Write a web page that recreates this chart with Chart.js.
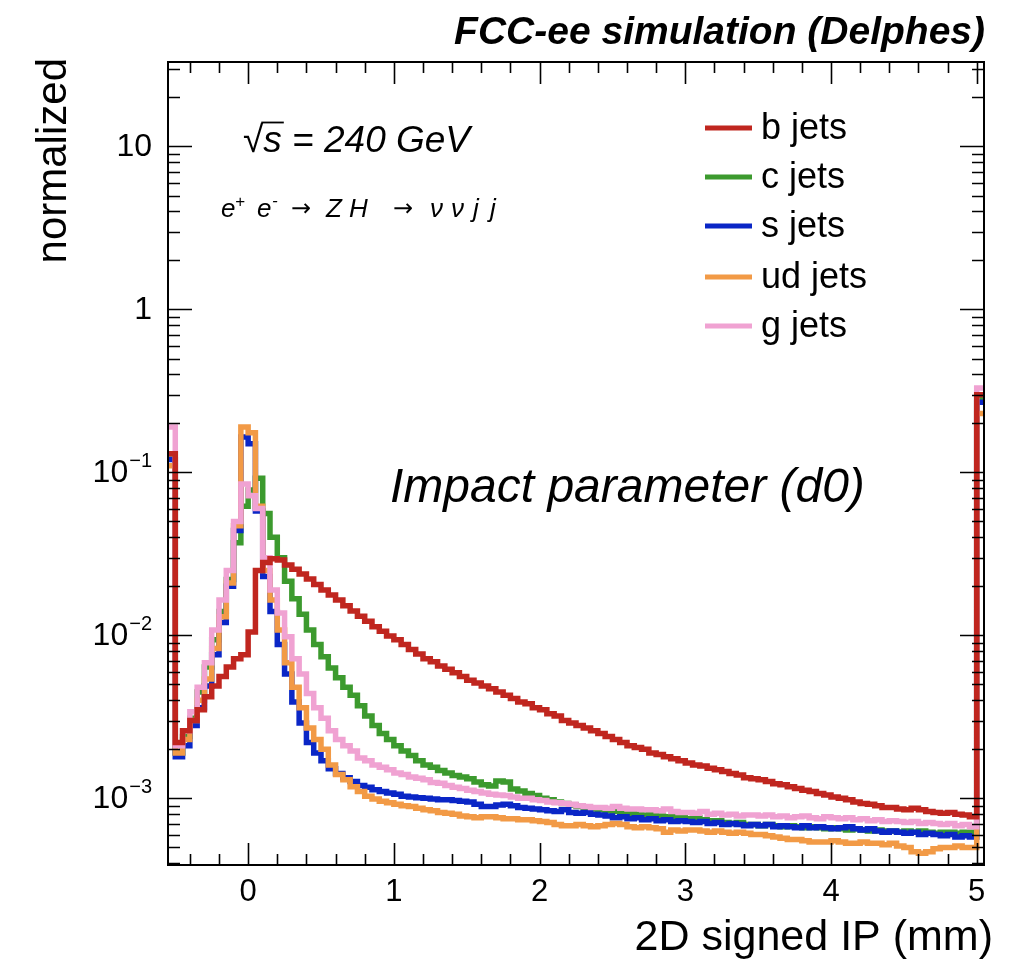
<!DOCTYPE html>
<html>
<head>
<meta charset="utf-8">
<script src="https://cdn.jsdelivr.net/npm/chart.js@4.4.1/dist/chart.umd.min.js"></script>
<style>
  html, body { margin: 0; padding: 0; background: #fff; }
  #wrap { width: 1021px; height: 960px; }
</style>
</head>
<body>
<div id="wrap"><canvas id="myChart"></canvas></div>
<script>
// histogram binning: 112 bins of 0.05 mm from -0.55 to 5.05 (first/last bins hold under/overflow)
const binStart = -0.55;
const binWidth = 0.05;

const bJets = [0.13, 0.0022, 0.0026, 0.0030, 0.0035, 0.0042, 0.0049, 0.0056, 0.0064, 0.0072,
  0.0076, 0.0105, 0.025, 0.028, 0.0295, 0.029, 0.027, 0.0255, 0.0238, 0.0222,
  0.0205, 0.019, 0.0177, 0.0165, 0.0152, 0.0141, 0.0131, 0.0122, 0.0113, 0.0106,
  0.0099, 0.0094, 0.0088, 0.0082, 0.0077, 0.0072, 0.0069, 0.0065, 0.0062, 0.0059,
  0.0056, 0.0053, 0.0051, 0.0049, 0.0047, 0.0045, 0.0043, 0.0041, 0.0039, 0.0038,
  0.0036, 0.0035, 0.0033, 0.0032, 0.0030, 0.0029, 0.0028, 0.0027, 0.0026, 0.0025,
  0.0024, 0.0023, 0.0022, 0.0021, 0.00205, 0.0020, 0.0019, 0.00186, 0.0018, 0.00175,
  0.0017, 0.00165, 0.0016, 0.00158, 0.00153, 0.0015, 0.00146, 0.00142, 0.00139, 0.00134,
  0.00132, 0.0013, 0.00127, 0.00123, 0.00121, 0.00118, 0.00115, 0.00112, 0.0011, 0.00107,
  0.00105, 0.00102, 0.001, 0.00098, 0.00095, 0.00093, 0.00092, 0.0009, 0.00088, 0.00088,
  0.00086, 0.00085, 0.00087, 0.00085, 0.00083, 0.00082, 0.00081, 0.00082, 0.0008, 0.00079,
  0.00077, 0.30];

const cJets = [0.13, 0.0019, 0.0024, 0.0031, 0.0045, 0.0064, 0.0094, 0.014, 0.022, 0.037,
  0.062, 0.078, 0.092, 0.056, 0.040, 0.030, 0.0215, 0.0168, 0.0135, 0.0108,
  0.0088, 0.0074, 0.0063, 0.0055, 0.0048, 0.0043, 0.0037, 0.0032, 0.0028, 0.0025,
  0.0023, 0.0021, 0.00195, 0.00183, 0.0017, 0.0016, 0.00155, 0.00148, 0.00143, 0.00138,
  0.00135, 0.00132, 0.00126, 0.00121, 0.00119, 0.00128, 0.00126, 0.00114, 0.00111, 0.00107,
  0.00104, 0.001, 0.00098, 0.00095, 0.00093, 0.00091, 0.00089, 0.00087, 0.00086, 0.00085,
  0.00084, 0.00083, 0.00083, 0.00081, 0.0008, 0.00079, 0.00081, 0.00078, 0.00077, 0.00077,
  0.00076, 0.00075, 0.00076, 0.00074, 0.00073, 0.00073, 0.00071, 0.0007, 0.00071, 0.00069,
  0.00069, 0.00068, 0.00069, 0.00068, 0.00067, 0.00068, 0.00067, 0.00066, 0.00067, 0.00066,
  0.00065, 0.00066, 0.00065, 0.00064, 0.00065, 0.00064, 0.00063, 0.00064, 0.00063, 0.00063,
  0.00062, 0.00063, 0.00062, 0.00063, 0.00062, 0.00061, 0.00062, 0.00062, 0.00061, 0.00062,
  0.00062, 0.28];

const sJets = [0.12, 0.0018, 0.0021, 0.0028, 0.0036, 0.0049, 0.0076, 0.012, 0.020, 0.044,
  0.165, 0.15, 0.058, 0.023, 0.014, 0.0088, 0.0058, 0.0039, 0.0029, 0.0022,
  0.0019, 0.0017, 0.00152, 0.00142, 0.00134, 0.00127, 0.0012, 0.00117, 0.00113, 0.0011,
  0.00108, 0.00106, 0.00103, 0.00102, 0.00101, 0.001, 0.00099, 0.00098, 0.00098, 0.00097,
  0.00096, 0.00095, 0.00092, 0.00089, 0.00089, 0.00091, 0.00092, 0.0009, 0.00088, 0.00087,
  0.00086, 0.00085, 0.00084, 0.00083, 0.00085, 0.00082, 0.00081, 0.00082, 0.0008, 0.00079,
  0.00078, 0.00076, 0.00077, 0.00075, 0.00076, 0.00074, 0.00075, 0.00073, 0.00074, 0.00072,
  0.00073, 0.00072, 0.00071, 0.00072, 0.0007, 0.00071, 0.00069, 0.0007, 0.00069, 0.00068,
  0.00069, 0.00068, 0.00069, 0.00067, 0.00068, 0.00067, 0.00066, 0.00068, 0.00066, 0.00067,
  0.00066, 0.00065, 0.00066, 0.00067, 0.00065, 0.00064, 0.00065, 0.00063, 0.00062, 0.00063,
  0.00062, 0.00061, 0.00062, 0.0006, 0.00061, 0.0006, 0.00059, 0.0006, 0.00058, 0.00059,
  0.00058, 0.27];

const udJets = [0.11, 0.0019, 0.0023, 0.0030, 0.0040, 0.0054, 0.0083, 0.013, 0.021, 0.047,
  0.19, 0.175, 0.062, 0.025, 0.0165, 0.0108, 0.0068, 0.0048, 0.0036, 0.0027,
  0.0023, 0.0020, 0.0016, 0.0014, 0.0013, 0.00118, 0.0011, 0.00103, 0.00099, 0.00096,
  0.00094, 0.00092, 0.0009, 0.00089, 0.00087, 0.00085, 0.00084, 0.00082, 0.00081, 0.0008,
  0.00078, 0.00077, 0.00076, 0.00077, 0.00077, 0.00076, 0.00075, 0.00075, 0.00074, 0.00074,
  0.00073, 0.00072, 0.00071, 0.00069, 0.00068, 0.00068, 0.00069, 0.00068, 0.00067, 0.00068,
  0.00069, 0.0007, 0.00069, 0.00067, 0.00066, 0.00067, 0.00066, 0.00065, 0.00062, 0.00064,
  0.00063, 0.00064, 0.00064, 0.00063, 0.00062, 0.00063, 0.00062, 0.00061, 0.00062, 0.00061,
  0.0006, 0.0006, 0.00059, 0.00058, 0.00057, 0.00056, 0.00056, 0.00055, 0.00054, 0.00054,
  0.00054, 0.00055, 0.00054, 0.00053, 0.00053, 0.00054, 0.00053, 0.00053, 0.00052, 0.00053,
  0.00051, 0.0005, 0.00047, 0.00046, 0.00047, 0.00049, 0.0005, 0.0005, 0.00051, 0.0005,
  0.0005, 0.23];

const gJets = [0.19, 0.0021, 0.0026, 0.0034, 0.0048, 0.0068, 0.0108, 0.0165, 0.025, 0.050,
  0.085, 0.072, 0.060, 0.030, 0.019, 0.0137, 0.0098, 0.0072, 0.0058, 0.0044,
  0.0036, 0.0031, 0.0026, 0.0023, 0.0021, 0.00195, 0.00177, 0.0017, 0.0016, 0.00155,
  0.0015, 0.00143, 0.0014, 0.00135, 0.00133, 0.0013, 0.00125, 0.00124, 0.0012, 0.00117,
  0.00115, 0.00112, 0.0011, 0.00108, 0.00106, 0.00105, 0.00104, 0.00102, 0.001, 0.001,
  0.00098, 0.00097, 0.00095, 0.00094, 0.00093, 0.00092, 0.0009, 0.00089, 0.00088, 0.00088,
  0.00087, 0.00089, 0.00087, 0.00086, 0.00086, 0.00085, 0.00085, 0.00084, 0.00086, 0.00083,
  0.00082, 0.00082, 0.00081, 0.00083, 0.0008, 0.00081, 0.00079, 0.0008, 0.00078, 0.00079,
  0.00079, 0.00078, 0.00079, 0.00077, 0.00078, 0.00076, 0.00077, 0.00078, 0.00076, 0.00075,
  0.00077, 0.00076, 0.00075, 0.00076, 0.00074, 0.00075, 0.00073, 0.00074, 0.00072, 0.00073,
  0.00072, 0.00071, 0.00072, 0.0007, 0.00071, 0.0007, 0.00069, 0.0007, 0.00068, 0.00069,
  0.00067, 0.33];

const seriesNames = ['b jets', 'c jets', 's jets', 'ud jets', 'g jets'];
const seriesColors = ['#c0261f', '#3c9a2e', '#0a26c6', '#f29a46', '#f0a2d2'];
// drawing order (lower = on top), as in the original canvas
const seriesOrder = [0, 4, 3, 2, 1];

// axis ticks
const xTickValues = [-0.4, -0.2, 0, 0.2, 0.4, 0.6, 0.8, 1, 1.2, 1.4, 1.6, 1.8, 2, 2.2, 2.4, 2.6, 2.8,
  3, 3.2, 3.4, 3.6, 3.8, 4, 4.2, 4.4, 4.6, 4.8, 5];
const yLabelValues = [10, 1, 0.1, 0.01, 0.001];
const yLabelBase = ['10', '1', '10', '10', '10'];
const yLabelSup = ['', '', '\u22121', '\u22122', '\u22123'];

function histPoints(values) {
  const pts = values.map((v, k) => ({ x: binStart + k * binWidth, y: v }));
  pts.push({ x: binStart + values.length * binWidth, y: values[values.length - 1] });
  return pts;
}

const allSeries = [bJets, cJets, sJets, udJets, gJets];
const datasets = allSeries.map((vals, i) => ({
  label: seriesNames[i],
  data: histPoints(vals),
  borderColor: seriesColors[i],
  borderWidth: 5.5,
  stepped: 'before',
  pointRadius: 0,
  fill: false,
  order: seriesOrder[i],
  borderJoinStyle: 'miter',
  borderCapStyle: 'butt'
}));

const FONT = '"Liberation Sans", Arial, Helvetica, sans-serif';
const isInt = v => Math.abs(v - Math.round(v)) < 1e-6;

// ROOT-like frame, inner ticks, labels and text
const rootStyle = {
  id: 'rootStyle',
  afterDraw(chart) {
    const { ctx, chartArea: a, scales: { x, y } } = chart;
    ctx.save();
    ctx.strokeStyle = '#000';
    ctx.fillStyle = '#000';

    // tick marks on all four sides
    ctx.lineWidth = 1.6;
    ctx.beginPath();
    xTickValues.forEach(v => {
      const px = Math.round(x.getPixelForValue(v)) + 0.5;
      const len = isInt(v) ? 22 : 11;
      ctx.moveTo(px, a.bottom); ctx.lineTo(px, a.bottom - len);
      ctx.moveTo(px, a.top); ctx.lineTo(px, a.top + len);
    });
    for (let e = -4; e <= 1; e++) {
      for (let m = 1; m <= 9; m++) {
        const v = m * Math.pow(10, e);
        if (v < y.min || v > y.max) continue;
        const py = Math.round(y.getPixelForValue(v)) + 0.5;
        const len = m === 1 ? 24 : 12;
        ctx.moveTo(a.left, py); ctx.lineTo(a.left + len, py);
        ctx.moveTo(a.right, py); ctx.lineTo(a.right - len, py);
      }
    }
    ctx.stroke();

    // frame
    ctx.lineWidth = 2;
    ctx.strokeRect(a.left, a.top, a.right - a.left, a.bottom - a.top);

    // y tick labels
    ctx.textBaseline = 'middle';
    ctx.textAlign = 'right';
    yLabelValues.forEach((v, i) => {
      const py = y.getPixelForValue(v);
      let xr = 152;
      if (yLabelSup[i]) {
        ctx.font = '20px ' + FONT;
        ctx.fillText(yLabelSup[i], xr, py - 11);
        xr -= ctx.measureText(yLabelSup[i]).width + 1;
      }
      ctx.font = '32px ' + FONT;
      ctx.fillText(yLabelBase[i], xr, py + 1);
    });

    // axis titles
    ctx.textBaseline = 'alphabetic';
    ctx.font = '43px ' + FONT;
    ctx.textAlign = 'right';
    ctx.fillText('2D signed IP (mm)', 993, 950);
    ctx.save();
    ctx.translate(66, 58);
    ctx.rotate(-Math.PI / 2);
    ctx.textAlign = 'right';
    ctx.font = '42px ' + FONT;
    ctx.fillText('normalized', 0, 0);
    ctx.restore();

    // header
    ctx.font = 'italic bold 39px ' + FONT;
    ctx.textAlign = 'right';
    ctx.fillText('FCC-ee simulation (Delphes)', 985, 44);

    // sqrt(s) label
    ctx.textAlign = 'left';
    ctx.font = 'italic 37px ' + FONT;
    const root = '\u221A';
    ctx.fillText(root, 243, 152);
    const rw = ctx.measureText(root).width;
    ctx.fillText('s', 243 + rw, 152);
    const sw = ctx.measureText('s').width;
    ctx.lineWidth = 1.8;
    ctx.beginPath();
    ctx.moveTo(243 + rw - 2, 122.5); ctx.lineTo(243 + rw + sw + 2, 122.5);
    ctx.stroke();
    ctx.fillText(' = 240 GeV', 243 + rw + sw, 152);

    // process label, laid out piece by piece
    const base = 217;
    const put = (txt, px, font, dy) => { ctx.font = font; ctx.fillText(txt, px, base + (dy || 0)); };
    const it = 'italic 26px ' + FONT;
    const sup = 'italic 17px ' + FONT;
    const arr = '24px "DejaVu Sans", sans-serif';
    put('e', 221, it);
    put('+', 235, sup, -10);
    put('e', 257, it);
    put('-', 272, sup, -11);
    put('\u2192', 291, arr, -1);
    put('Z H', 326, it);
    put('\u2192', 393, arr, -1);
    put('\u03BD', 430, it);
    put('\u03BD', 451, it);
    put('j', 473, it);
    put('j', 490, it);

    // plot annotation
    ctx.font = 'italic 48px ' + FONT;
    ctx.fillText('Impact parameter (d0)', 390, 502);

    // legend
    const legY = [128, 177, 226, 277, 326];
    ctx.font = '36px ' + FONT;
    ctx.textBaseline = 'middle';
    seriesNames.forEach((name, i) => {
      ctx.strokeStyle = seriesColors[i];
      ctx.lineWidth = 5;
      ctx.beginPath();
      ctx.moveTo(705, legY[i]); ctx.lineTo(752, legY[i]);
      ctx.stroke();
      ctx.fillStyle = '#000';
      ctx.fillText(name, 761, legY[i] + 1);
    });

    ctx.restore();
  }
};

const ctx = document.getElementById('myChart').getContext('2d');
new Chart(ctx, {
  type: 'line',
  data: { datasets: datasets },
  options: {
    responsive: true,
    maintainAspectRatio: false,
    animation: false,
    layout: { padding: { top: 62, right: 37, left: 0, bottom: 0 } },
    plugins: {
      legend: { display: false },
      tooltip: { enabled: false }
    },
    scales: {
      x: {
        type: 'linear',
        min: -0.55,
        max: 5.05,
        grid: { display: false, drawTicks: false },
        border: { display: false },
        afterBuildTicks: s => { s.ticks = xTickValues.map(v => ({ value: v })); },
        afterFit: s => { s.height = 95; },
        ticks: {
          autoSkip: false,
          maxRotation: 0,
          padding: 9,
          color: '#000',
          font: { family: FONT, size: 31 },
          callback: v => isInt(v) ? String(Math.round(v)) : ''
        }
      },
      y: {
        type: 'logarithmic',
        min: 3.9e-4,
        max: 33,
        grid: { display: false, drawTicks: false },
        border: { display: false },
        ticks: { display: false },
        afterFit: s => { s.width = 168; }
      }
    }
  },
  plugins: [rootStyle]
});
</script>
</body>
</html>
